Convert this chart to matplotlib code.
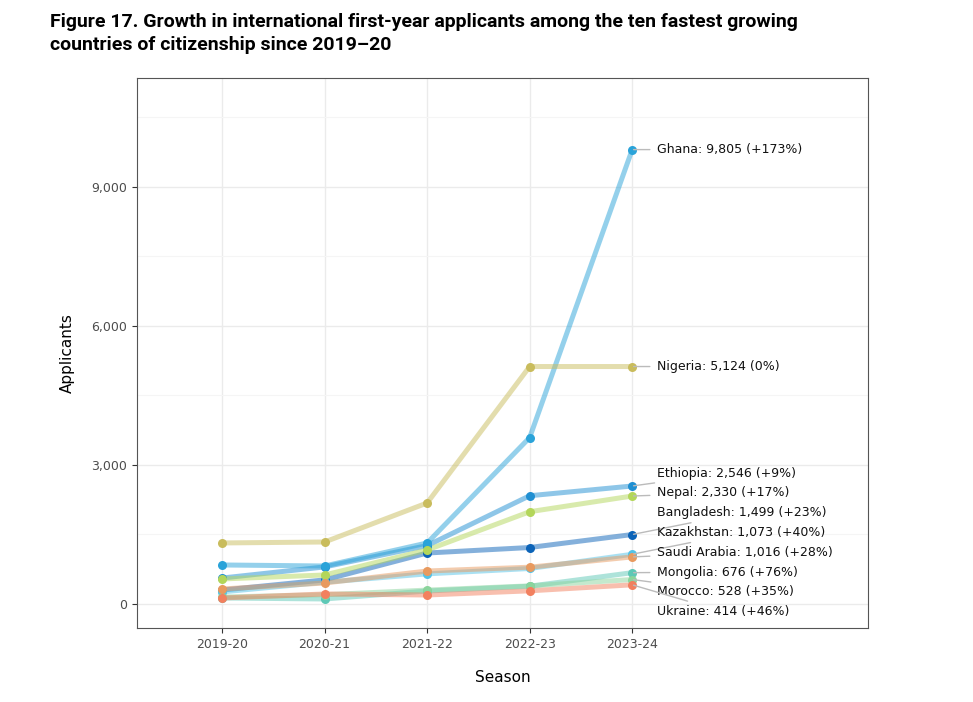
import matplotlib
matplotlib.use("Agg")
import matplotlib.pyplot as plt
from matplotlib.ticker import FuncFormatter, MultipleLocator
import numpy as np

seasons = ["2019-20", "2020-21", "2021-22", "2022-23", "2023-24"]

countries = ["Bangladesh", "Ethiopia", "Ghana", "Kazakhstan", "Mongolia",
             "Morocco", "Nepal", "Nigeria", "Saudi Arabia", "Ukraine"]

bangladesh = [300, 520, 1100, 1219, 1499]
ethiopia = [560, 800, 1260, 2336, 2546]
ghana = [842, 820, 1317, 3591, 9805]
kazakhstan = [260, 470, 650, 766, 1073]
mongolia = [130, 108, 280, 384, 676]
morocco = [150, 200, 300, 391, 528]
nepal = [540, 626, 1165, 1991, 2330]
nigeria = [1317, 1338, 2180, 5124, 5124]
saudi_arabia = [324, 453, 712, 794, 1016]
ukraine = [130, 216, 194, 284, 414]

series = [bangladesh, ethiopia, ghana, kazakhstan, mongolia,
          morocco, nepal, nigeria, saudi_arabia, ukraine]

colors = ["#0b63b8", "#1f8fd2", "#2aa3d9", "#55c3e6", "#5ec8b6",
          "#8bd49c", "#b3d65a", "#c9bc5c", "#e89a5f", "#f2805f"]

title_lines = ["Figure 17. Growth in international first-year applicants among the ten fastest growing",
               "countries of citizenship since 2019\u201320"]

fig = plt.figure(figsize=(9.73, 7.02), dpi=100)
ax = fig.add_axes([137/973, 1-628/702, (868-137)/973, (628-78)/702])

x = np.arange(len(seasons))
for vals, c in zip(series, colors):
    ax.plot(x, vals, color=c, alpha=0.5, lw=3.6, solid_capstyle="butt", zorder=3)
for vals, c in zip(series, colors):
    ax.plot(x, vals, 'o', color=c, ms=6.5, mec='none', zorder=4)

ax.set_xlim(-0.83, 6.3)
ax.set_ylim(-518, 11350)

# label repel (minimum spacing)
gap = 427.0
last = np.array([v[-1] for v in series], dtype=float)
prev = np.array([v[-2] for v in series], dtype=float)
order = np.argsort(-last)
clusters = []
for i in order:
    clusters.append([i])
    while len(clusters) > 1:
        a, b = clusters[-2], clusters[-1]
        ma = np.mean([last[k] for k in a]); mb = np.mean([last[k] for k in b])
        bottom_a = ma - gap * (len(a) - 1) / 2
        top_b = mb + gap * (len(b) - 1) / 2
        if bottom_a - top_b < gap:
            clusters[-2] = a + b
            clusters.pop()
        else:
            break
label_y = {}
for cl in clusters:
    m = np.mean([last[k] for k in cl]) + (70 if len(cl) > 1 else 0)
    n = len(cl)
    for j, k in enumerate(cl):
        label_y[k] = m + gap * ((n - 1) / 2 - j)

for k, name in enumerate(countries):
    pct = (last[k] / prev[k] - 1) * 100
    txt = f"{name}: {int(last[k]):,} ({'+' if round(pct) > 0 else ''}{round(pct):.0f}%)"
    ax.annotate(txt, xy=(4, last[k]), xytext=(4.24, label_y[k]),
                fontsize=9, color="#111111", va="center", ha="left",
                arrowprops=dict(arrowstyle="-", color="#bbbbbb", lw=1.0,
                                shrinkA=3, shrinkB=1),
                zorder=5)

ax.set_xticks(x)
ax.set_xticklabels(seasons)
ax.yaxis.set_major_locator(MultipleLocator(3000))
ax.yaxis.set_minor_locator(MultipleLocator(1500))
ax.yaxis.set_major_formatter(FuncFormatter(lambda v, p: f"{int(v):,}"))
ax.tick_params(axis='both', which='major', labelsize=9, labelcolor="#4d4d4d",
               color="#333333", length=3.5, width=0.8)
ax.tick_params(axis='y', which='minor', length=0)
ax.grid(which='major', color="#ebebeb", lw=1.0, zorder=0)
ax.grid(which='minor', axis='y', color="#f5f5f5", lw=0.8, zorder=0)
ax.set_axisbelow(True)
for s in ax.spines.values():
    s.set_color("#555555")
    s.set_linewidth(0.8)

ax.set_xlabel("Season", fontsize=11, labelpad=14)
ax.set_ylabel("Applicants", fontsize=11, labelpad=12)

for i, line in enumerate(title_lines):
    fig.text(50/973, 1-(27 + 23*i)/702, line,
             fontsize=14, fontweight="bold", family="Roboto", va="baseline", ha="left")

fig.savefig("out.png", dpi=100)
